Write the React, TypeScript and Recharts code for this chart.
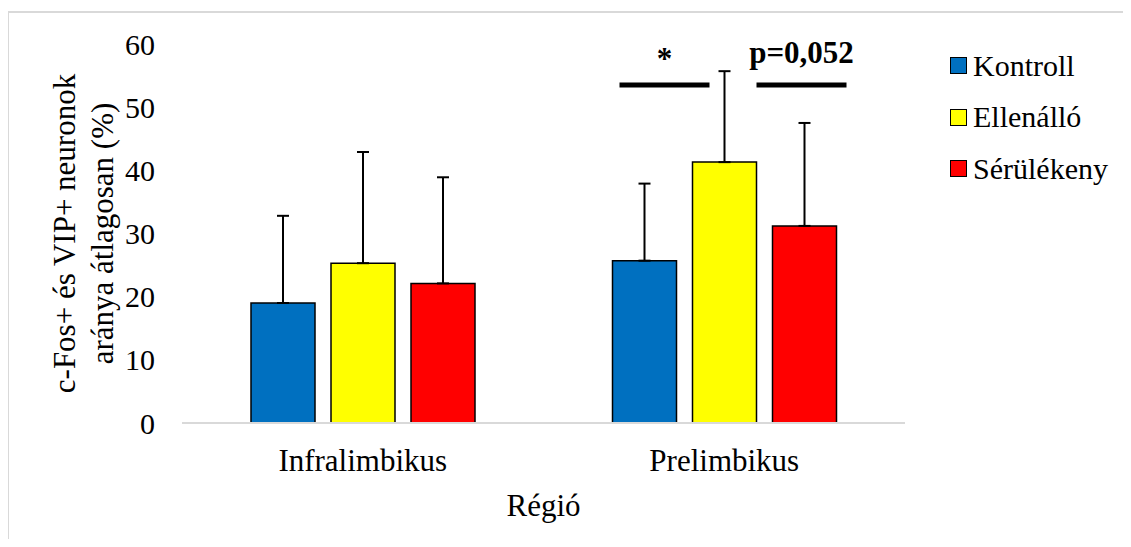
import React from 'react';
import {
  BarChart,
  Bar,
  XAxis,
  YAxis,
  ErrorBar,
  Legend,
  LabelList,
  Label,
} from 'recharts';

const regions = ['Infralimbikus', 'Prelimbikus'];

// group means (%) and upper SD
const kontroll = [19.0, 25.7];
const kontrollSd = [13.8, 12.2];
const ellenallo = [25.3, 41.3];
const ellenalloSd = [17.6, 14.4];
const serulekeny = [22.1, 31.2];
const serulekenySd = [16.8, 16.3];

const yTicks = [0, 10, 20, 30, 40, 50, 60];

// significance brackets drawn over the Prelimbikus group
const sigLevel = 53.5;
const sigLabels = ['*', 'p=0,052'];

const groups = [
  { key: 'kontroll', name: 'Kontroll', color: '#0070C0' },
  { key: 'ellenallo', name: 'Ellenálló', color: '#FFFF00' },
  { key: 'serulekeny', name: 'Sérülékeny', color: '#FF0000' },
];

const data = regions.map((region, i) => ({
  region,
  kontroll: kontroll[i],
  kontrollErr: [0, kontrollSd[i]],
  ellenallo: ellenallo[i],
  ellenalloErr: [0, ellenalloSd[i]],
  serulekeny: serulekeny[i],
  serulekenyErr: [0, serulekenySd[i]],
}));

const FONT = '"Liberation Serif", "DejaVu Serif", serif';

const YTitle = (props: any) => {
  const { viewBox } = props;
  const cy = viewBox.y + viewBox.height / 2;
  const lines = [
    { text: 'c-Fos+ és VIP+ neuronok', x: 75 },
    { text: 'aránya átlagosan (%)', x: 113 },
  ];
  return (
    <g>
      {lines.map((l) => (
        <text
          key={l.text}
          x={l.x}
          y={cy}
          transform={`rotate(-90, ${l.x}, ${cy})`}
          textAnchor="middle"
          style={{ fontSize: 31, fontFamily: FONT }}
          fill="#000"
        >
          {l.text}
        </text>
      ))}
    </g>
  );
};

const XTitle = (props: any) => {
  const { viewBox } = props;
  return (
    <text
      x={viewBox.x + viewBox.width / 2}
      y={viewBox.y + 93}
      textAnchor="middle"
      style={{ fontSize: 31, fontFamily: FONT }}
      fill="#000"
    >
      Régió
    </text>
  );
};

// brackets placed relative to the Ellenálló bar, height taken from its own scale
const SigMarks = (props: any) => {
  const { x, y, width, height, value, index } = props;
  if (index !== 1) return null;
  const base = y + height;
  const yy = base - (sigLevel * height) / value;
  const segs = [
    { x1: x - 73, x2: x + 17, text: sigLabels[0], dy: -16 },
    { x1: x + width, x2: x + width + 90, text: sigLabels[1], dy: -22 },
  ];
  return (
    <g>
      {segs.map((s) => (
        <g key={s.text}>
          <line x1={s.x1} x2={s.x2} y1={yy} y2={yy} stroke="#000" strokeWidth={5} />
          <text
            x={(s.x1 + s.x2) / 2}
            y={yy + s.dy}
            textAnchor="middle"
            style={{ fontSize: 31, fontWeight: 'bold', fontFamily: FONT }}
            fill="#000"
          >
            {s.text}
          </text>
        </g>
      ))}
    </g>
  );
};

const LegendBox = () => (
  <div style={{ fontFamily: FONT, fontSize: 30, color: '#000' }}>
    {groups.map((g) => (
      <div key={g.key} style={{ display: 'flex', alignItems: 'center', height: 51.5 }}>
        <span
          style={{
            width: 17,
            height: 17,
            boxSizing: 'border-box',
            background: g.color,
            border: '1.5px solid #000',
            marginRight: 6,
            display: 'inline-block',
          }}
        />
        <span style={{ lineHeight: 1 }}>{g.name}</span>
      </div>
    ))}
  </div>
);

const tickStyle = { fontSize: 30, fontFamily: FONT, fill: '#000' };

export default function App() {
  return (
    <div
      style={{
        position: 'relative',
        width: 1131,
        height: 547,
        overflow: 'hidden',
        background: '#fff',
        margin: -8,
        fontFamily: FONT,
      }}
    >
      <div
        style={{
          position: 'absolute',
          left: 7,
          top: 11,
          width: 1200,
          height: 600,
          border: '2px solid #d9d9d9',
        }}
      />
      <div style={{ position: 'absolute', left: 0, top: 0 }}>
        <BarChart
          width={1131}
          height={547}
          data={data}
          margin={{ top: 44, right: 226, bottom: 0, left: 0 }}
          barSize={64}
          barGap={16}
          style={{ fontFamily: FONT }}
        >
          <XAxis
            dataKey="region"
            height={124}
            tickLine={false}
            tickSize={0}
            tickMargin={26}
            axisLine={{ stroke: '#d9d9d9', strokeWidth: 2 }}
            tick={{ ...tickStyle, fontSize: 31, style: { fontFamily: FONT } }}
          >
            <Label content={<XTitle />} />
          </XAxis>
          <YAxis
            width={182}
            domain={[0, 60]}
            ticks={yTicks}
            axisLine={false}
            tickLine={false}
            tickSize={0}
            tickMargin={27}
            tick={{ ...tickStyle, style: { fontFamily: FONT } }}
          >
            <Label content={<YTitle />} />
          </YAxis>
          <Legend
            layout="horizontal"
            verticalAlign="middle"
            align="center"
            wrapperStyle={{ left: 950, top: 40, width: 180, height: 160 }}
            content={<LegendBox />}
          />
          {groups.map((g) => (
            <Bar
              key={g.key}
              dataKey={g.key}
              name={g.name}
              fill={g.color}
              stroke="#000"
              strokeWidth={1.5}
              isAnimationActive={false}
            >
              <ErrorBar
                dataKey={`${g.key}Err`}
                width={6}
                stroke="#000"
                strokeWidth={2}
                isAnimationActive={false}
              />
              {g.key === 'ellenallo' && <LabelList dataKey="ellenallo" content={<SigMarks />} />}
            </Bar>
          ))}
        </BarChart>
      </div>
    </div>
  );
}
